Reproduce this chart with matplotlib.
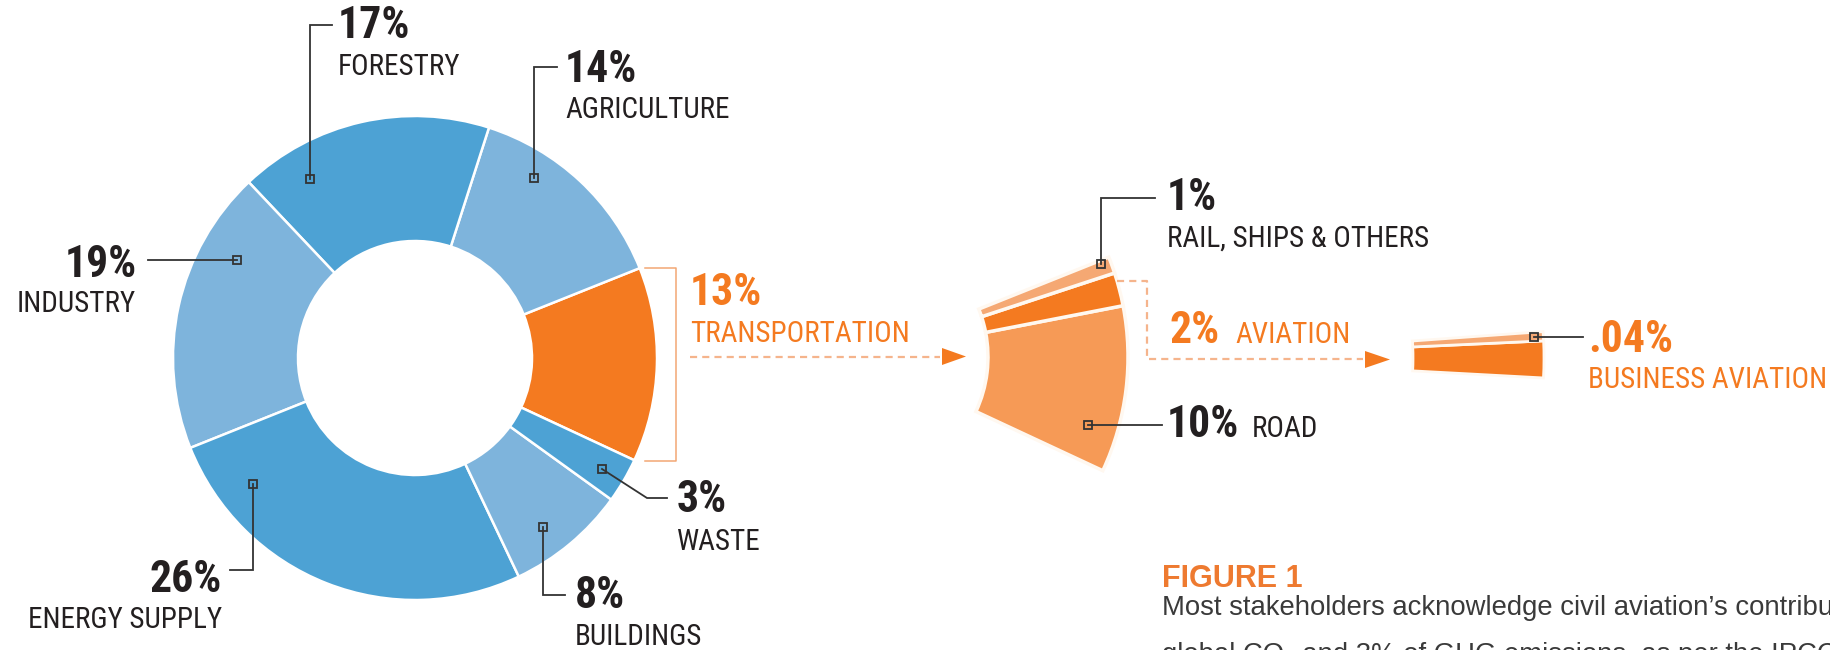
import os
import matplotlib
matplotlib.use("Agg")
import matplotlib.pyplot as plt
from matplotlib import font_manager as fm
from matplotlib.patches import Polygon

# ---------------- data ----------------
sectors = ["TRANSPORTATION", "AGRICULTURE", "FORESTRY", "INDUSTRY",
           "ENERGY SUPPLY", "BUILDINGS", "WASTE"]
sector_share = [13, 14, 17, 19, 26, 8, 3]          # % of global GHG
transport_modes = ["ROAD", "AVIATION", "RAIL, SHIPS & OTHERS"]
transport_share = [10, 2, 1]                        # % of global GHG
aviation_parts = ["OTHER AVIATION", "BUSINESS AVIATION"]
aviation_share = [1.96, 0.04]                       # % of global GHG


def find_font(cands):
    files = {os.path.basename(f.fname).lower(): f.fname for f in fm.fontManager.ttflist}
    for c in cands:
        if c.lower() in files:
            return files[c.lower()]
    return None


reg_file = find_font(["RobotoCondensed-Regular.ttf", "LiberationSansNarrow-Regular.ttf",
                      "NotoSans-CondensedRegular.ttf", "DejaVuSansCondensed.ttf"])
bold_file = find_font(["RobotoCondensed-ExtraBold.ttf", "RobotoCondensed-Bold.ttf",
                       "LiberationSansNarrow-Bold.ttf",
                       "NotoSans-CondensedBold.ttf", "DejaVuSansCondensed-Bold.ttf"])
FP_REG = fm.FontProperties(fname=reg_file) if reg_file else fm.FontProperties(family="Liberation Sans")
FP_BOLD = fm.FontProperties(fname=bold_file) if bold_file else fm.FontProperties(family="Liberation Sans", weight="bold")

# ---------------- style ----------------
W, H = 1831, 650
DARK_BLUE = "#4DA2D4"
LIGHT_BLUE = "#7EB4DC"
ORANGE = "#F47A20"
ROAD_ORANGE = "#F69A56"
PALE_ORANGE = "#F5A873"
TEXT = "#231F20"
LEADER = "#333333"
sector_colors = [ORANGE, LIGHT_BLUE, DARK_BLUE, LIGHT_BLUE, DARK_BLUE, LIGHT_BLUE, DARK_BLUE]
BUSINESS_VISUAL_SHARE = 0.2   # the reference enlarges the tiny business-aviation slice

fig = plt.figure(figsize=(W / 100, H / 100), dpi=100)
ax = fig.add_axes([0, 0, 1, 1])


def Y(y):
    return H - y


# main donut
ax.pie(sector_share, colors=sector_colors, startangle=-25, counterclock=True,
       radius=242, center=(415, Y(358)),
       wedgeprops=dict(width=125, edgecolor="white", linewidth=1.8))

# transport breakdown fan (same angular share of the whole)
ax.pie([v / 100 for v in transport_share], normalize=False,
       colors=[ROAD_ORANGE, ORANGE, PALE_ORANGE], startangle=-25, counterclock=True,
       radius=269, center=(859, Y(357)),
       wedgeprops=dict(width=140, edgecolor="#FFF8F0", linewidth=2.5))

# aviation breakdown
av_total = sum(aviation_share)
av_vis = [av_total * (1 - BUSINESS_VISUAL_SHARE) / 100, av_total * BUSINESS_VISUAL_SHARE / 100]
ax.pie(av_vis, normalize=False, colors=[ORANGE, PALE_ORANGE], startangle=-3.1,
       counterclock=True, radius=369, center=(1175, Y(358)),
       wedgeprops=dict(width=131, edgecolor="#FFF8F0", linewidth=2))

ax.set_xlim(0, W)
ax.set_ylim(0, H)
ax.set_aspect("equal")
ax.axis("off")


def leader(pts):
    xs = [p[0] for p in pts]
    ys = [Y(p[1]) for p in pts]
    ax.plot(xs, ys, color=LEADER, lw=1.3, solid_joinstyle="miter", zorder=5)
    ax.plot(xs[0], ys[0], marker="s", ms=5.5, mfc="none", mec=LEADER, mew=1.3, zorder=6)


def txt(x, y, s, fp, size, color=TEXT, ha="left"):
    ax.text(x, Y(y), s, fontproperties=fp, fontsize=size, color=color,
            ha=ha, va="baseline", zorder=7)


PCT = 31.5
NAME = 21

# leaders
leader([(310, 179), (310, 25), (332, 25)])
leader([(534, 178), (534, 67), (557, 67)])
leader([(237, 260), (148, 260)])
leader([(253, 484), (253, 570), (230, 570)])
leader([(543, 527), (543, 595), (565, 595)])
leader([(602, 469), (647, 498), (667, 498)])
leader([(1101, 264), (1101, 198), (1155, 198)])
leader([(1088, 425), (1162, 425)])
leader([(1534, 337), (1583, 337)])

# labels for main donut
lab = dict(zip(sectors, sector_share))
txt(338, 38, f"{lab['FORESTRY']}%", FP_BOLD, PCT)
txt(338, 75, "FORESTRY", FP_REG, NAME)
txt(565, 82, f"{lab['AGRICULTURE']}%", FP_BOLD, PCT)
txt(565, 118, "AGRICULTURE", FP_REG, NAME)
txt(137, 277, f"{lab['INDUSTRY']}%", FP_BOLD, PCT, ha="right")
txt(136, 312, "INDUSTRY", FP_REG, NAME, ha="right")
txt(222, 592, f"{lab['ENERGY SUPPLY']}%", FP_BOLD, PCT, ha="right")
txt(222, 628, "ENERGY SUPPLY", FP_REG, NAME, ha="right")
txt(677, 512, f"{lab['WASTE']}%", FP_BOLD, PCT)
txt(677, 550, "WASTE", FP_REG, NAME)
txt(575, 608, f"{lab['BUILDINGS']}%", FP_BOLD, PCT)
txt(575, 645, "BUILDINGS", FP_REG, NAME)
txt(690, 305, f"{lab['TRANSPORTATION']}%", FP_BOLD, PCT, color=ORANGE)
txt(690, 342, "TRANSPORTATION", FP_REG, NAME, color=ORANGE)

# bracket around transportation
bx = [645, 676, 676, 645]
by = [268, 268, 461, 461]
ax.plot(bx, [Y(v) for v in by], color="#F2A774", lw=1.1, zorder=4)

# dashed arrows
ARROW_DASH = "#F5B48C"
ax.plot([690, 940], [Y(357), Y(357)], color=ARROW_DASH, lw=1.6, linestyle=(0, (3.2, 2.3)))
ax.add_patch(Polygon([(942, Y(348)), (966, Y(356.5)), (942, Y(365))], closed=True,
                     facecolor=ORANGE, edgecolor="none"))
ax.plot([1117, 1147, 1147, 1363], [Y(281), Y(281), Y(359), Y(359)], color=ARROW_DASH,
        lw=1.6, linestyle=(0, (3.2, 2.3)))
ax.add_patch(Polygon([(1365, Y(351)), (1390, Y(359.5)), (1365, Y(368))], closed=True,
                     facecolor=ORANGE, edgecolor="none"))

# transport breakdown labels
tm = dict(zip(transport_modes, transport_share))
txt(1167, 210, f"{tm['RAIL, SHIPS & OTHERS']}%", FP_BOLD, PCT)
txt(1167, 247, "RAIL, SHIPS & OTHERS", FP_REG, NAME)
txt(1170, 343, f"{tm['AVIATION']}%", FP_BOLD, PCT, color=ORANGE)
txt(1235, 343, "AVIATION", FP_REG, NAME, color=ORANGE)
txt(1167, 437, f"{tm['ROAD']}%", FP_BOLD, PCT)
txt(1252, 437, "ROAD", FP_REG, NAME)

# business aviation labels
ba = dict(zip(aviation_parts, aviation_share))
txt(1588, 352, f"{ba['BUSINESS AVIATION']:.2f}%".lstrip("0"), FP_BOLD, PCT, color=ORANGE)
txt(1588, 388, "BUSINESS AVIATION", FP_REG, NAME, color=ORANGE)

# caption
CAP = ["Liberation Sans", "DejaVu Sans"]
ax.text(1162, Y(587), "FIGURE 1", family=CAP, fontweight="bold", fontsize=22,
        color="#EE7A30", ha="left", va="baseline")
ax.text(1162, Y(615), "Most stakeholders acknowledge civil aviation\u2019s contribution of 2% of",
        family=CAP, fontsize=19.8, color="#3A3A3A", ha="left", va="baseline")
ax.text(1162, Y(662), "global CO\u2082 and 3% of GHG emissions, as per the IPCC.",
        family=CAP, fontsize=19.8, color="#3A3A3A", ha="left", va="baseline")

fig.savefig("out.png", dpi=100)
